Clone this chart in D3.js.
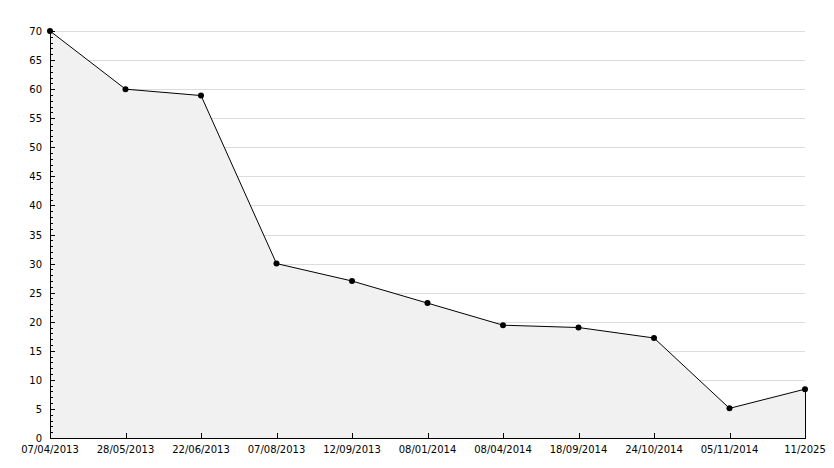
<!DOCTYPE html>
<html><head><meta charset="utf-8">
<script src="https://cdn.jsdelivr.net/npm/d3@7"></script>
<style>body{margin:0;background:#fff}svg{display:block}text{font-family:"DejaVu Sans",sans-serif;font-size:10px;fill:#000}</style>
</head><body><svg id="c" width="834" height="468"></svg>
<script>
const categories = ["07/04/2013","28/05/2013","22/06/2013","07/08/2013","12/09/2013","08/01/2014","08/04/2014","18/09/2014","24/10/2014","05/11/2014","11/2025"];
const values = [70, 60, 58.9, 30, 27, 23.2, 19.4, 19, 17.2, 5.1, 8.4];
const yTicks = [0,5,10,15,20,25,30,35,40,45,50,55,60,65,70];

const svg = d3.select("#c");
const L = 50, R = 805, T = 31, B = 438;
const x = d3.scalePoint().domain(categories).range([L, R]);
const y = d3.scaleLinear().domain([0, 70]).range([B, T]);

// gridlines
svg.append("g").selectAll("line").data(yTicks.filter(d=>d>0)).join("line")
  .attr("x1", L).attr("x2", R).attr("y1", d=>Math.round(y(d))+0.5).attr("y2", d=>Math.round(y(d))+0.5)
  .attr("stroke", "#dcdcdc").attr("stroke-width", 1);

// area
const pts = categories.map((c,i)=>[x(c), y(values[i])]);
const area = d3.area().x(d=>d[0]).y0(B).y1(d=>d[1]);
svg.append("path").datum(pts).attr("d", area).attr("fill", "#f1f1f1");

// line
svg.append("path").datum(pts).attr("d", d3.line()).attr("fill","none").attr("stroke","#000").attr("stroke-width",1);
// right edge
svg.append("line").attr("x1", R+0.5).attr("x2", R+0.5).attr("y1", y(values[values.length-1])).attr("y2", B).attr("stroke","#000");

// y axis
const yAxis = svg.append("g");
yAxis.append("line").attr("x1", L+0.5).attr("x2", L+0.5).attr("y1", T).attr("y2", B+0.5).attr("stroke","#000");
const minor = d3.range(0, 71, 1);
yAxis.selectAll("line.m").data(minor).join("line").attr("class","m")
  .attr("x1", L).attr("x2", d=> d%5===0 ? L+5 : L+3)
  .attr("y1", d=>Math.round(y(d))+0.5).attr("y2", d=>Math.round(y(d))+0.5).attr("stroke","#000");
yAxis.selectAll("text").data(yTicks).join("text")
  .attr("x", L-8).attr("y", d=>y(d)+4).attr("text-anchor","end").text(d=>d);

// x axis
const xAxis = svg.append("g");
xAxis.append("line").attr("x1", L).attr("x2", R+1).attr("y1", B+0.5).attr("y2", B+0.5).attr("stroke","#000");
xAxis.selectAll("line.t").data(categories).join("line").attr("class","t")
  .attr("x1", d=>Math.round(x(d))+0.5).attr("x2", d=>Math.round(x(d))+0.5).attr("y1", B).attr("y2", B-5).attr("stroke","#000");
xAxis.selectAll("text").data(categories).join("text")
  .attr("x", d=>x(d)).attr("y", B+15).attr("text-anchor","middle").text(d=>d);

// markers
svg.append("g").selectAll("circle").data(pts).join("circle")
  .attr("cx", d=>d[0]).attr("cy", d=>d[1]).attr("r", 3).attr("fill","#000");
</script></body></html>
